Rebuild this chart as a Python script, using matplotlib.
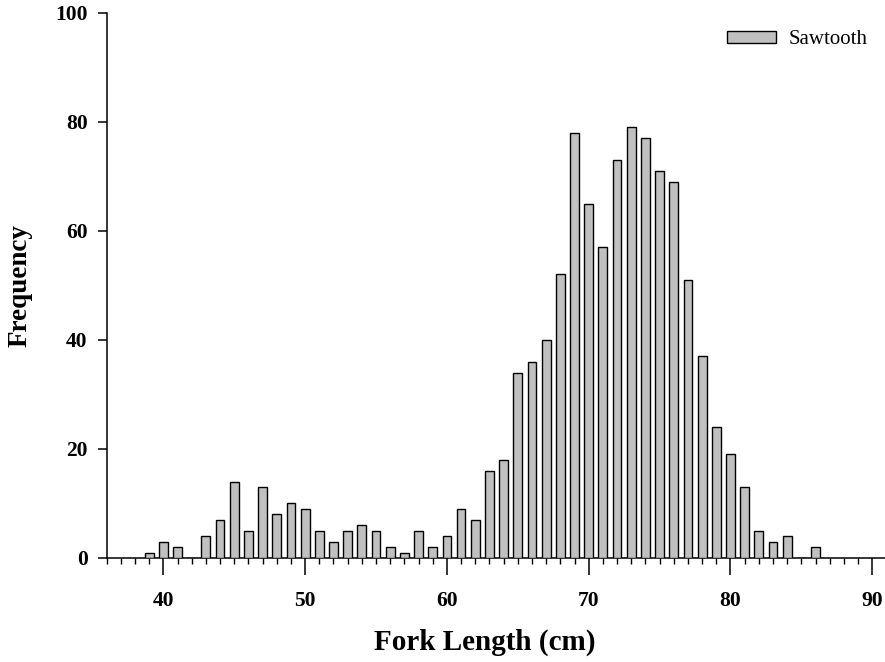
import matplotlib
matplotlib.use("Agg")
import matplotlib.pyplot as plt
from matplotlib.ticker import MultipleLocator

# fork length classes (cm) and fish counts
comprimentos = [39, 40, 41, 42, 43, 44, 45, 46, 47, 48, 49, 50, 51, 52, 53, 54, 55, 56, 57,
                58, 59, 60, 61, 62, 63, 64, 65, 66, 67, 68, 69, 70, 71, 72, 73, 74, 75, 76,
                77, 78, 79, 80, 81, 82, 83, 84, 85, 86]
frequencias = [1, 3, 2, 0, 4, 7, 14, 5, 13, 8, 10, 9, 5, 3, 5, 6, 5, 2, 1,
               5, 2, 4, 9, 7, 16, 18, 34, 36, 40, 52, 78, 65, 57, 73, 79, 77, 71, 69,
               51, 37, 24, 19, 13, 5, 3, 4, 0, 2]
rotulo_serie = "Sawtooth"
ticks_x = [40, 50, 60, 70, 80, 90]
ticks_y = [0, 20, 40, 60, 80, 100]

plt.rcParams["font.family"] = ["Liberation Serif", "DejaVu Serif"]

fig = plt.figure(figsize=(8.85, 6.62), dpi=100)
ax = fig.add_axes([0.1205, 0.1571, 0.8795, 0.8237])

ax.bar(comprimentos, frequencias, width=0.62, color="#c0c0c0",
       edgecolor="black", linewidth=1.0, label=rotulo_serie, zorder=3)

ax.set_xlim(36, 90.9)
ax.set_ylim(0, 100)
ax.set_xticks(ticks_x)
ax.set_yticks(ticks_y)
ax.xaxis.set_minor_locator(MultipleLocator(1))

for lado in ["top", "right"]:
    ax.spines[lado].set_visible(False)
for lado in ["left", "bottom"]:
    ax.spines[lado].set_linewidth(1.1)

ax.tick_params(axis="x", which="major", direction="out", length=12, width=1.1, pad=11.5,
               labelsize=15.5)
ax.tick_params(axis="x", which="minor", direction="out", length=4.3, width=1.0)
ax.tick_params(axis="y", which="major", direction="out", length=6.2, width=1.1, pad=7.5,
               labelsize=15.5)
for rotulo in ax.get_xticklabels() + ax.get_yticklabels():
    rotulo.set_fontweight("bold")

ax.set_xlabel("Fork Length (cm)", fontsize=21, fontweight="bold", va="center")
ax.set_ylabel("Frequency", fontsize=19.5, fontweight="bold", va="center")
ax.xaxis.set_label_coords(0.486, -0.155)
ax.yaxis.set_label_coords(-0.111, 0.50)

ax.legend(loc="upper right", frameon=False, fontsize=15, handlelength=2.37,
          handleheight=0.48, handletextpad=0.58, borderaxespad=0.45)

fig.savefig("out.png", dpi=100)
